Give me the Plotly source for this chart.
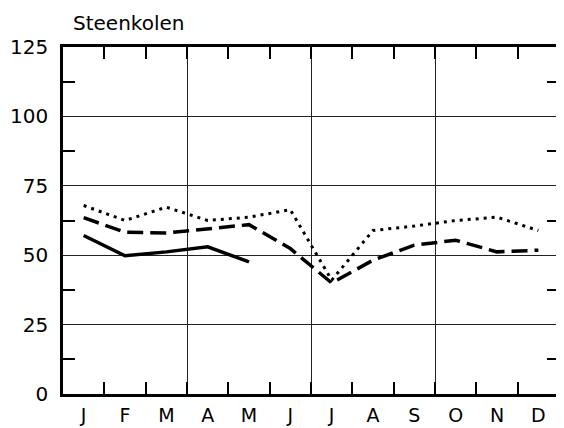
import plotly.graph_objects as go

months = ["J", "F", "M", "A", "M", "J", "J", "A", "S", "O", "N", "D"]
month_pos = [0.5, 1.5, 2.5, 3.5, 4.5, 5.5, 6.5, 7.5, 8.5, 9.5, 10.5, 11.5]

dotted_vals = [67.9, 62.5, 67.3, 62.5, 63.7, 66.4, 41.0, 58.9, 60.5, 62.5, 63.7, 58.9]
dashed_vals = [63.5, 58.3, 58.0, 59.5, 61.0, 52.4, 40.0, 48.2, 53.6, 55.4, 51.2, 51.8]
solid_vals = [57.1, 49.8, 51.2, 53.0, 47.6]

y_ticks = [0, 25, 50, 75, 100, 125]
y_minor = [12.5, 37.5, 62.5, 87.5, 112.5]
x_minor = [1, 2, 3, 4, 5, 6, 7, 8, 9, 10, 11]
x_grid = [3, 6, 9]

title_text = "Steenkolen"

FONT = "DejaVu Sans"

fig = go.Figure()
fig.add_trace(go.Scatter(x=month_pos, y=dotted_vals, mode="lines",
                         line=dict(color="black", width=3, dash="3px,5px"),
                         showlegend=False))
fig.add_trace(go.Scatter(x=month_pos, y=dashed_vals, mode="lines",
                         line=dict(color="black", width=3.5, dash="16px,7px"),
                         showlegend=False))
fig.add_trace(go.Scatter(x=month_pos[:len(solid_vals)], y=solid_vals, mode="lines",
                         line=dict(color="black", width=3.5),
                         showlegend=False))
# empty trace to anchor the overlay axes (top/right ticks)
fig.add_trace(go.Scatter(x=[None], y=[None], xaxis="x2", yaxis="y2",
                         mode="lines", showlegend=False, hoverinfo="skip"))

fig.update_layout(
    width=556, height=420,
    margin=dict(l=54, r=2, t=39, b=23),
    paper_bgcolor="white", plot_bgcolor="white",
    font=dict(family=FONT, color="black"),
    xaxis=dict(
        range=[0, 12], tickmode="array", tickvals=month_pos, ticktext=months,
        ticks="", showgrid=False, zeroline=False,
        showline=True, linecolor="black", linewidth=2.5, mirror=True,
        tickfont=dict(size=19, family=FONT), ticklabelstandoff=2,
        minor=dict(tickmode="array", tickvals=x_minor, ticks="inside",
                   ticklen=12, tickwidth=1.5, tickcolor="black", showgrid=False),
    ),
    xaxis2=dict(
        range=[0, 12], overlaying="x", side="top", anchor="y2",
        tickmode="array", tickvals=x_grid, showticklabels=False,
        ticks="inside", ticklen=12, tickwidth=1.5, tickcolor="black",
        showgrid=True, gridcolor="#222", gridwidth=1, zeroline=False,
        minor=dict(tickmode="array", tickvals=x_minor, ticks="inside",
                   ticklen=12, tickwidth=1.5, tickcolor="black", showgrid=False),
    ),
    yaxis=dict(
        range=[0, 125], tickmode="array", tickvals=y_ticks,
        ticktext=[str(v) for v in y_ticks],
        ticks="", showgrid=True, gridcolor="#222", gridwidth=1, zeroline=False,
        showline=True, linecolor="black", linewidth=2.5, mirror=True,
        tickfont=dict(size=20, family=FONT), ticklabelstandoff=8,
        minor=dict(tickmode="array", tickvals=y_minor, ticks="inside",
                   ticklen=12, tickwidth=1.5, tickcolor="black", showgrid=False),
    ),
    yaxis2=dict(
        range=[0, 125], overlaying="y", side="right", anchor="x2",
        tickmode="array", tickvals=y_minor, showticklabels=False,
        ticks="inside", ticklen=12, tickwidth=1.5, tickcolor="black",
        showgrid=False, zeroline=False,
    ),
    annotations=[dict(text=title_text, xref="paper", yref="paper",
                      x=0.0, y=1.0, xanchor="left", yanchor="bottom",
                      xshift=8, yshift=10,
                      showarrow=False, font=dict(size=20, family=FONT))],
)

fig.write_html("out.html")
